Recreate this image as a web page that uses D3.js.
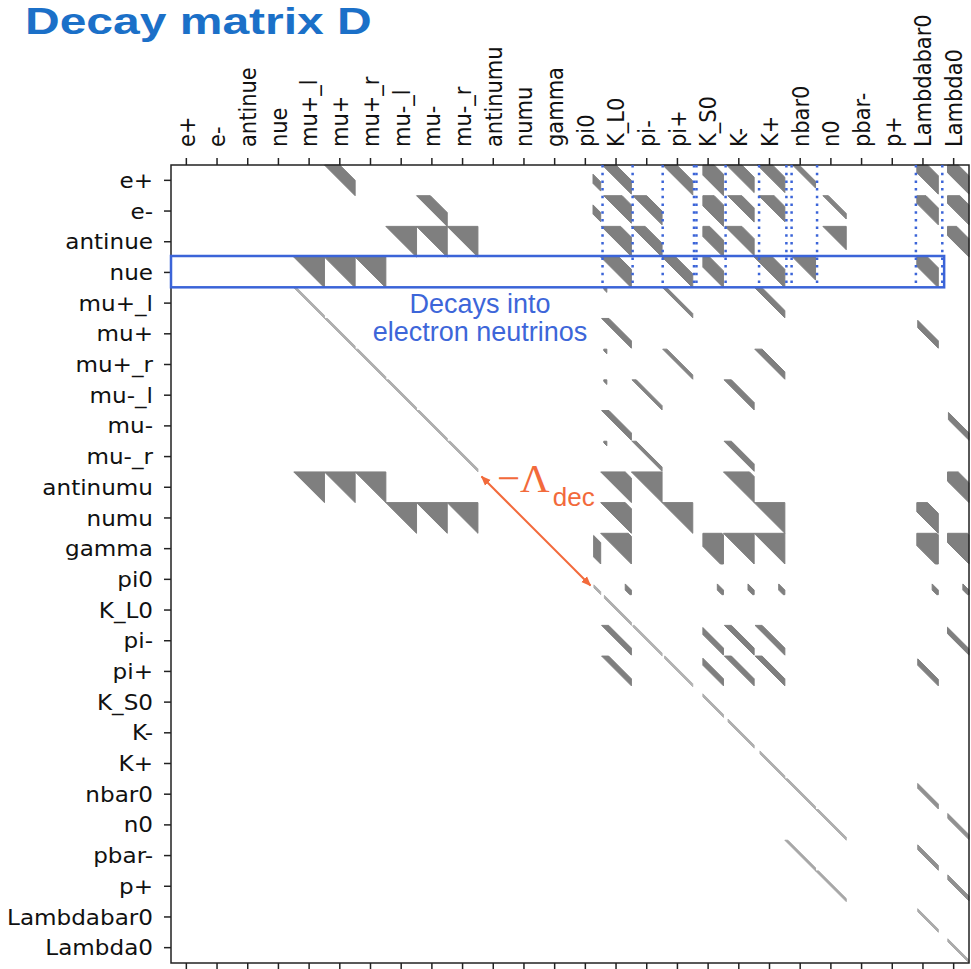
<!DOCTYPE html>
<html>
<head>
<meta charset="utf-8">
<script src="https://cdn.jsdelivr.net/npm/d3@7"></script>
<style>
  body { margin: 0; background: #fff; }
</style>
</head>
<body>
<svg></svg>
<script>
// particle order of the matrix (rows = daughters, columns = mothers)
const particles = ["e+", "e-", "antinue", "nue", "mu+_l", "mu+", "mu+_r", "mu-_l", "mu-", "mu-_r",
    "antinumu", "numu", "gamma", "pi0", "K_L0", "pi-", "pi+", "K_S0", "K-", "K+",
    "nbar0", "n0", "pbar-", "p+", "Lambdabar0", "Lambda0"];

// every block: [daughter, mother, lo, hi, umin, umax, strength]
// lo/hi = band of (mother bin - daughter bin) inside the block, in block units
const diagonal = [
    ["mu+_l", "mu+_l", 0, 0.1, 0, 1, 0.45], ["mu+", "mu+", 0, 0.1, 0, 1, 0.45],
    ["mu+_r", "mu+_r", 0, 0.1, 0, 1, 0.45], ["mu-_l", "mu-_l", 0, 0.1, 0, 1, 0.45],
    ["mu-", "mu-", 0, 0.1, 0, 1, 0.45], ["mu-_r", "mu-_r", 0, 0.1, 0, 1, 0.45],
    ["pi0", "pi0", 0, 0.1, 0.78, 1, 0.45], ["K_L0", "K_L0", 0, 0.1, 0.12, 1, 0.45],
    ["pi-", "pi-", 0, 0.1, 0.05, 1, 0.4], ["pi+", "pi+", 0, 0.1, 0.08, 1, 0.4],
    ["K_S0", "K_S0", 0, 0.1, 0.33, 1, 0.45], ["K-", "K-", 0, 0.1, 0.15, 1, 0.45],
    ["K+", "K+", 0, 0.1, 0.19, 1, 0.45], ["nbar0", "nbar0", 0, 0.1, 0, 1, 0.45],
    ["n0", "n0", 0, 0.1, 0, 1, 0.45], ["Lambdabar0", "Lambdabar0", 0, 0.1, 0.33, 1, 0.5],
    ["Lambda0", "Lambda0", 0, 0.1, 0.31, 1, 0.5]
];

const muonDecays = [
    ["e+", "mu+", 0, 0.5, 0, 1, 1], ["e-", "mu-", 0, 0.45, 0, 1, 1],
    ["antinue", "mu-_l", 0, 1, 0, 1, 1], ["antinue", "mu-", 0, 1, 0, 1, 1], ["antinue", "mu-_r", 0, 1, 0, 1, 1],
    ["nue", "mu+_l", 0, 1, 0, 1, 1], ["nue", "mu+", 0, 1, 0, 1, 1], ["nue", "mu+_r", 0, 1, 0, 1, 1],
    ["antinumu", "mu+_l", 0, 1, 0, 1, 1], ["antinumu", "mu+", 0, 1, 0, 1, 1], ["antinumu", "mu+_r", 0, 1, 0, 1, 1],
    ["numu", "mu-_l", 0, 1, 0, 1, 1], ["numu", "mu-", 0, 1, 0, 1, 1], ["numu", "mu-_r", 0, 1, 0, 1, 1]
];

const mesonDecays = [
    ["e+", "pi0", 0.15, 0.45, 0.75, 1, 1], ["e+", "K_L0", 0.05, 0.5, 0, 1, 1], ["e+", "pi+", 0.02, 0.48, 0, 1, 1],
    ["e+", "K_S0", 0, 0.7, 0.33, 1, 1], ["e+", "K-", 0.1, 0.6, 0, 1, 1], ["e+", "K+", 0.1, 0.6, 0, 1, 1],
    ["e-", "pi0", 0.15, 0.45, 0.75, 1, 1], ["e-", "K_L0", 0.1, 0.7, 0, 1, 1], ["e-", "pi-", 0.05, 0.5, 0, 1, 1],
    ["e-", "K_S0", 0, 0.7, 0.33, 1, 1], ["e-", "K-", 0.14, 0.6, 0, 1, 1], ["e-", "K+", 0.15, 0.65, 0, 1, 1],
    ["antinue", "K_L0", 0.02, 0.65, 0, 1, 1], ["antinue", "pi-", 0, 0.45, 0, 1, 1],
    ["antinue", "K_S0", 0, 0.55, 0.33, 1, 1], ["antinue", "K-", 0.05, 0.6, 0, 1, 1],
    ["nue", "K_L0", 0, 0.6, 0, 1, 1], ["nue", "pi+", 0, 0.45, 0, 1, 1],
    ["nue", "K_S0", 0, 0.55, 0.33, 1, 1], ["nue", "K+", 0, 0.6, 0, 1, 1],
    ["mu+_l", "K_L0", 0.05, 0.2, 0.1, 0.2, 1], ["mu+_l", "pi+", 0.02, 0.16, 0, 1, 0.95], ["mu+_l", "K+", 0.02, 0.26, 0, 1, 1],
    ["mu+", "K_L0", 0.03, 0.27, 0, 1, 1],
    ["mu+_r", "K_L0", 0.05, 0.2, 0.1, 0.2, 1], ["mu+_r", "pi+", 0.02, 0.16, 0, 1, 0.95], ["mu+_r", "K+", 0.02, 0.26, 0, 1, 1],
    ["mu-_l", "K_L0", 0.05, 0.2, 0.1, 0.2, 1], ["mu-_l", "pi-", 0.02, 0.16, 0, 1, 0.95], ["mu-_l", "K-", 0.02, 0.26, 0, 1, 1],
    ["mu-", "K_L0", 0.03, 0.27, 0, 1, 1],
    ["mu-_r", "K_L0", 0.05, 0.2, 0.1, 0.2, 1], ["mu-_r", "pi-", 0.02, 0.16, 0, 1, 0.95], ["mu-_r", "K-", 0.02, 0.26, 0, 1, 1],
    ["antinumu", "K_L0", 0, 0.8, 0, 1, 1], ["antinumu", "pi-", 0, 1, 0, 1, 1], ["antinumu", "K-", 0, 0.85, 0, 1, 1],
    ["numu", "K_L0", 0, 0.8, 0, 1, 1], ["numu", "pi+", 0, 1, 0, 1, 1], ["numu", "K+", 0, 1, 0, 1, 1],
    ["gamma", "pi0", 0, 0.7, 0.77, 1, 1], ["gamma", "K_L0", 0, 0.9, 0, 1, 1], ["gamma", "K_S0", -0.1, 0.95, 0.33, 1, 1],
    ["gamma", "K-", 0, 1, 0, 1, 1], ["gamma", "K+", 0, 1, 0, 1, 1],
    ["pi0", "K_L0", -0.05, 0.15, 0.8, 1, 1], ["pi0", "K_S0", -0.05, 0.15, 0.8, 1, 1],
    ["pi0", "K-", -0.05, 0.15, 0.8, 1, 1], ["pi0", "K+", -0.05, 0.15, 0.8, 1, 1],
    ["pi-", "K_L0", 0.03, 0.26, 0, 1, 1], ["pi-", "K_S0", 0.03, 0.26, 0.33, 1, 1],
    ["pi-", "K-", 0.03, 0.26, 0, 1, 1], ["pi-", "K+", 0.03, 0.26, 0, 1, 1],
    ["pi+", "K_L0", 0.03, 0.26, 0, 1, 1], ["pi+", "K_S0", 0.03, 0.26, 0.33, 1, 1],
    ["pi+", "K-", 0.03, 0.26, 0, 1, 1], ["pi+", "K+", 0.03, 0.26, 0, 1, 1]
];

const baryonDecays = [
    ["e+", "nbar0", 0.25, 0.47, 0, 1, 0.95], ["e-", "n0", 0.24, 0.42, 0, 1, 0.95],
    ["antinue", "n0", 0.24, 1, 0, 1, 1], ["nue", "nbar0", 0.25, 1, 0, 1, 1],
    ["pbar-", "nbar0", 0, 0.1, 0, 1, 0.55], ["p+", "n0", 0, 0.1, 0, 1, 0.55],
    ["e+", "Lambdabar0", 0.05, 0.65, 0.3, 1, 1], ["e+", "Lambda0", 0.05, 0.65, 0.3, 1, 1],
    ["e-", "Lambdabar0", 0.05, 0.6, 0.3, 1, 1], ["e-", "Lambda0", 0.05, 0.7, 0.3, 1, 1],
    ["antinue", "Lambda0", 0, 0.6, 0.3, 1, 1], ["nue", "Lambdabar0", 0, 0.65, 0.3, 1, 1],
    ["mu+", "Lambdabar0", 0.03, 0.27, 0.33, 1, 1], ["mu-", "Lambda0", 0.03, 0.27, 0.33, 1, 1],
    ["antinumu", "Lambda0", 0, 0.65, 0.3, 1, 1], ["numu", "Lambdabar0", 0, 0.65, 0.3, 1, 1],
    ["gamma", "Lambdabar0", -0.1, 0.95, 0.3, 1, 1], ["gamma", "Lambda0", 0, 0.95, 0.3, 1, 1],
    ["pi0", "Lambdabar0", -0.05, 0.15, 0.8, 1, 1], ["pi0", "Lambda0", -0.05, 0.15, 0.8, 1, 1],
    ["pi-", "Lambda0", 0.03, 0.24, 0.3, 1, 1], ["pi+", "Lambdabar0", 0.03, 0.24, 0.33, 1, 1],
    ["nbar0", "Lambdabar0", 0.02, 0.18, 0.33, 1, 0.8], ["n0", "Lambda0", 0.02, 0.18, 0.31, 1, 0.8],
    ["pbar-", "Lambdabar0", 0.02, 0.18, 0.33, 1, 0.8], ["p+", "Lambda0", 0.02, 0.18, 0.31, 1, 0.8]
];

// annotations (in column / row units)
const markedColumns = [14.06, 15.04, 16.02, 17.04, 17.12, 18.07, 19.16, 20.05, 20.22, 21.05, 24.27, 25.13];
const boxRows = [2.965, 3.985];
const boxCols = [0, 25.19];
const arrowSpan = [10.15, 13.7];

const width = 971, height = 969;
const plotLeft = 171, plotTop = 165, size = 798;
const stretch = 1.1;

const svg = d3.select("svg")
    .attr("width", width)
    .attr("height", height);

const x = d3.scaleBand().domain(particles).range([plotLeft, plotLeft + size]);
const y = d3.scaleBand().domain(particles).range([plotTop, plotTop + size]);
const bw = x.bandwidth();
const colPos = d3.scaleLinear().domain([0, particles.length]).range([plotLeft, plotLeft + size]);
const rowPos = d3.scaleLinear().domain([0, particles.length]).range([plotTop, plotTop + size]);

const grey = d3.scaleLinear().domain([0, 1]).range(["#d6d6d6", "#7f7f7f"]);

// keep the part of a polygon with a*u + b*v <= c
function clip(poly, a, b, c) {
    const out = [];
    for (let i = 0; i < poly.length; i++) {
        const p = poly[i], q = poly[(i + 1) % poly.length];
        const fp = a * p[0] + b * p[1] - c, fq = a * q[0] + b * q[1] - c;
        if (fp <= 0) out.push(p);
        if ((fp < 0 && fq > 0) || (fp > 0 && fq < 0)) {
            const t = fp / (fp - fq);
            out.push([p[0] + t * (q[0] - p[0]), p[1] + t * (q[1] - p[1])]);
        }
    }
    return out;
}

function blockPath(d) {
    const [row, col, lo, hi, umin, umax] = d;
    let p = [[umin, 0], [umax, 0], [umax, 1], [umin, 1]];
    p = clip(p, -1, 1, -lo);
    p = clip(p, 1, -1, hi);
    const x0 = x(col), y0 = y(row);
    return "M" + p.map(q => [x0 + q[0] * bw, y0 + q[1] * bw].join(",")).join("L") + "Z";
}

const blocks = diagonal.concat(muonDecays, mesonDecays, baryonDecays);

svg.append("g").attr("class", "blocks")
    .selectAll("path")
    .data(blocks)
    .enter()
    .append("path")
    .attr("d", blockPath)
    .attr("fill", d => grey(d[6]))
    .attr("stroke", d => grey(d[6]))
    .attr("stroke-width", 1)
    .attr("stroke-linejoin", "round");

// frame
svg.append("rect")
    .attr("x", plotLeft).attr("y", plotTop)
    .attr("width", size).attr("height", size)
    .attr("fill", "none")
    .attr("stroke", "#222")
    .attr("stroke-width", 1.5);

// axes
const gy = svg.append("g")
    .attr("transform", `translate(${plotLeft},0)`)
    .call(d3.axisLeft(y).tickSize(7).tickSizeOuter(0));
gy.select(".domain").remove();

const gx = svg.append("g")
    .attr("transform", `translate(0,${plotTop})`)
    .call(d3.axisTop(x).tickSize(7).tickSizeOuter(0));
gx.select(".domain").remove();

const gb = svg.append("g")
    .attr("transform", `translate(0,${plotTop + size})`)
    .call(d3.axisBottom(x).tickSize(7).tickSizeOuter(0).tickFormat(""));
gb.select(".domain").remove();

svg.selectAll(".tick line").attr("stroke", "#222").attr("stroke-width", 1.5);

gy.selectAll("text")
    .attr("x", null)
    .attr("dy", "0.36em")
    .attr("transform", `translate(-18,0) scale(${stretch},1)`)
    .attr("font-family", "DejaVu Sans")
    .attr("font-size", 21)
    .attr("fill", "#111");

gx.selectAll("text")
    .attr("x", null).attr("y", null)
    .attr("dy", "0.36em")
    .attr("text-anchor", "start")
    .attr("transform", `translate(0,-18) scale(${stretch},1) rotate(-90)`)
    .attr("font-family", "DejaVu Sans")
    .attr("font-size", 21)
    .attr("fill", "#111");

// title
svg.append("text")
    .attr("x", 0).attr("y", 0)
    .attr("font-family", "Liberation Sans, Arial, sans-serif")
    .attr("font-weight", "bold")
    .attr("font-size", 37.5)
    .attr("fill", "#1b70c8")
    .attr("transform", "translate(25,34) scale(1.28,1)")
    .text("Decay matrix D");

// blue markings: dotted columns and box around the nue row
const blue = "#3b64d8";
svg.append("g").attr("class", "marks")
    .selectAll("line")
    .data(markedColumns)
    .enter()
    .append("line")
    .attr("x1", d => colPos(d)).attr("x2", d => colPos(d))
    .attr("y1", plotTop).attr("y2", rowPos(boxRows[1]))
    .attr("stroke", blue)
    .attr("stroke-width", 2.5)
    .attr("stroke-dasharray", "2.5,5.2");

svg.append("rect")
    .attr("x", colPos(boxCols[0])).attr("y", rowPos(boxRows[0]))
    .attr("width", colPos(boxCols[1]) - colPos(boxCols[0]))
    .attr("height", rowPos(boxRows[1]) - rowPos(boxRows[0]))
    .attr("fill", "none")
    .attr("stroke", blue)
    .attr("stroke-width", 2.5);

svg.append("g")
    .attr("font-family", "Liberation Sans, Arial, sans-serif")
    .attr("font-size", 27)
    .attr("fill", "#3d66d9")
    .attr("text-anchor", "middle")
    .selectAll("text")
    .data(["Decays into", "electron neutrinos"])
    .enter()
    .append("text")
    .attr("x", 480)
    .attr("y", (d, i) => 313 + i * 28)
    .text(d => d);

// -Lambda_dec arrow along the diagonal
const orange = "#f26a3b";
const defs = svg.append("defs");
["start", "end"].forEach(k => {
    defs.append("marker")
        .attr("id", "head-" + k)
        .attr("viewBox", "0 0 10 10")
        .attr("refX", k === "end" ? 9 : 1).attr("refY", 5)
        .attr("markerWidth", 5).attr("markerHeight", 5)
        .attr("orient", "auto")
        .append("path")
        .attr("d", k === "end" ? "M0,1L10,5L0,9Z" : "M10,1L0,5L10,9Z")
        .attr("fill", orange);
});
svg.append("line")
    .attr("x1", colPos(arrowSpan[0]) - 1).attr("y1", rowPos(arrowSpan[0]))
    .attr("x2", colPos(arrowSpan[1]) - 1).attr("y2", rowPos(arrowSpan[1]))
    .attr("stroke", orange)
    .attr("stroke-width", 2)
    .attr("marker-start", "url(#head-start)")
    .attr("marker-end", "url(#head-end)");

const lam = svg.append("text")
    .attr("x", 497).attr("y", 492)
    .attr("fill", orange);
lam.append("tspan")
    .attr("font-family", "Liberation Serif, serif")
    .attr("font-size", 41)
    .text("\u2212\u039B");
lam.append("tspan")
    .attr("font-family", "Liberation Sans, Arial, sans-serif")
    .attr("font-size", 26)
    .attr("dx", 3).attr("dy", 14)
    .text("dec");
</script>
</body>
</html>
